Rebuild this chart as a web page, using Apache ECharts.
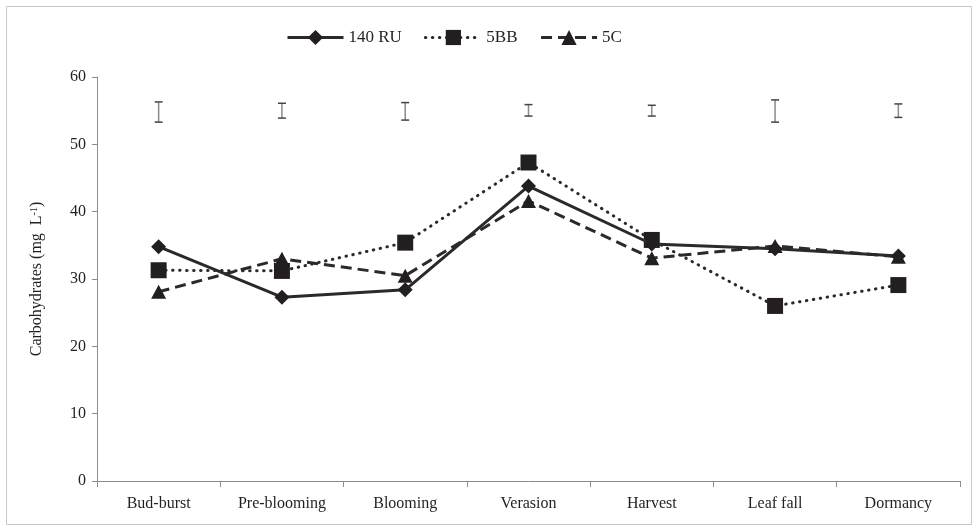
<!DOCTYPE html>
<html>
<head>
<meta charset="utf-8">
<script src="https://cdn.jsdelivr.net/npm/echarts@6/dist/echarts.min.js"></script>
<style>
  html, body { margin: 0; padding: 0; background: #fff; }
  #main { width: 978px; height: 531px; }
</style>
</head>
<body>
<div id="main"></div>
<script>
// stages
var stages = ['Bud-burst', 'Pre-blooming', 'Blooming', 'Verasion', 'Harvest', 'Leaf fall', 'Dormancy'];
// carbohydrates per rootstock
var ru140 = [34.8, 27.3, 28.4, 43.8, 35.2, 34.5, 33.4];
var bb5 = [31.3, 31.2, 35.4, 47.3, 35.8, 26.0, 29.1];
var c5 = [28.1, 33.0, 30.5, 41.6, 33.1, 34.9, 33.3];
// LSD bars drawn near the top (low / high)
var errLow = [53.3, 53.9, 53.6, 54.2, 54.2, 53.3, 54.0];
var errHigh = [56.3, 56.1, 56.2, 55.9, 55.8, 56.6, 56.0];
var yTicks = [0, 10, 20, 30, 40, 50, 60];

var font = '"Liberation Serif", "Times New Roman", serif';
var ink = '#231f20';

var errData = stages.map(function (s, i) { return [i, errLow[i], errHigh[i]]; });

var chart = echarts.init(document.getElementById('main'));

var option = {
  animation: false,
  backgroundColor: '#fff',
  textStyle: { fontFamily: font },
  graphic: [{
    type: 'rect',
    shape: { x: 6.5, y: 6.5, width: 965, height: 518 },
    style: { fill: 'none', stroke: '#c8c8c8', lineWidth: 1 },
    silent: true
  }],
  legend: {
    top: 24,
    left: 281,
    itemWidth: 56,
    itemHeight: 19,
    itemGap: 22,
    lineStyle: { width: 3 },
    textStyle: { fontFamily: font, fontSize: 17, color: ink },
    data: ['140 RU', '5BB', '5C']
  },
  grid: { left: 97, right: 18, top: 77, bottom: 50 },
  xAxis: {
    type: 'category',
    data: stages,
    boundaryGap: true,
    axisLine: { lineStyle: { color: '#8c8c8c', width: 1 } },
    axisTick: { show: true, length: 6, lineStyle: { color: '#8c8c8c' } },
    axisLabel: { fontFamily: font, fontSize: 16, color: ink, margin: 15, interval: 0 }
  },
  yAxis: {
    type: 'value',
    min: yTicks[0],
    max: yTicks[yTicks.length - 1],
    interval: 10,
    name: '{n|Carbohydrates (mg  L}{s|-1}{n|)}',
    nameLocation: 'middle',
    nameGap: 52,
    nameRotate: 90,
    nameTextStyle: {
      rich: {
        n: { fontFamily: font, fontSize: 16, color: ink },
        s: { fontFamily: font, fontSize: 10, color: ink, verticalAlign: 'top', padding: [0, 0, 6, 0] }
      }
    },
    axisLine: { show: true, lineStyle: { color: '#8c8c8c', width: 1 } },
    axisTick: { show: true, length: 5, lineStyle: { color: '#8c8c8c' } },
    splitLine: { show: false },
    axisLabel: { fontFamily: font, fontSize: 16, color: ink, margin: 11 }
  },
  series: [
    {
      name: '5C',
      type: 'line',
      data: c5,
      symbol: 'triangle',
      symbolSize: [15, 14],
      itemStyle: { color: ink },
      lineStyle: { color: '#2a2a2a', width: 3, type: [11, 6] },
      z: 2
    },
    {
      name: '5BB',
      type: 'line',
      data: bb5,
      symbol: 'rect',
      symbolSize: 16,
      itemStyle: { color: ink },
      lineStyle: { color: '#2a2a2a', width: 3, type: [0.5, 6.5], cap: 'round' },
      z: 3
    },
    {
      name: '140 RU',
      type: 'line',
      data: ru140,
      symbol: 'diamond',
      symbolSize: 15,
      itemStyle: { color: ink },
      lineStyle: { color: '#2a2a2a', width: 3 },
      z: 4
    },
    {
      name: 'LSD',
      type: 'custom',
      data: errData,
      encode: { x: 0, y: [1, 2] },
      silent: true,
      renderItem: function (params, api) {
        var lo = api.coord([api.value(0), api.value(1)]);
        var hi = api.coord([api.value(0), api.value(2)]);
        var w = 4;
        var st = { stroke: '#444', lineWidth: 1.5 };
        return {
          type: 'group',
          children: [
            { type: 'line', shape: { x1: lo[0], y1: lo[1], x2: hi[0], y2: hi[1] }, style: { stroke: '#8a8a8a', lineWidth: 1.5 } },
            { type: 'line', shape: { x1: lo[0] - w, y1: lo[1], x2: lo[0] + w, y2: lo[1] }, style: st },
            { type: 'line', shape: { x1: hi[0] - w, y1: hi[1], x2: hi[0] + w, y2: hi[1] }, style: st }
          ]
        };
      }
    }
  ]
};

chart.setOption(option);
</script>
</body>
</html>
